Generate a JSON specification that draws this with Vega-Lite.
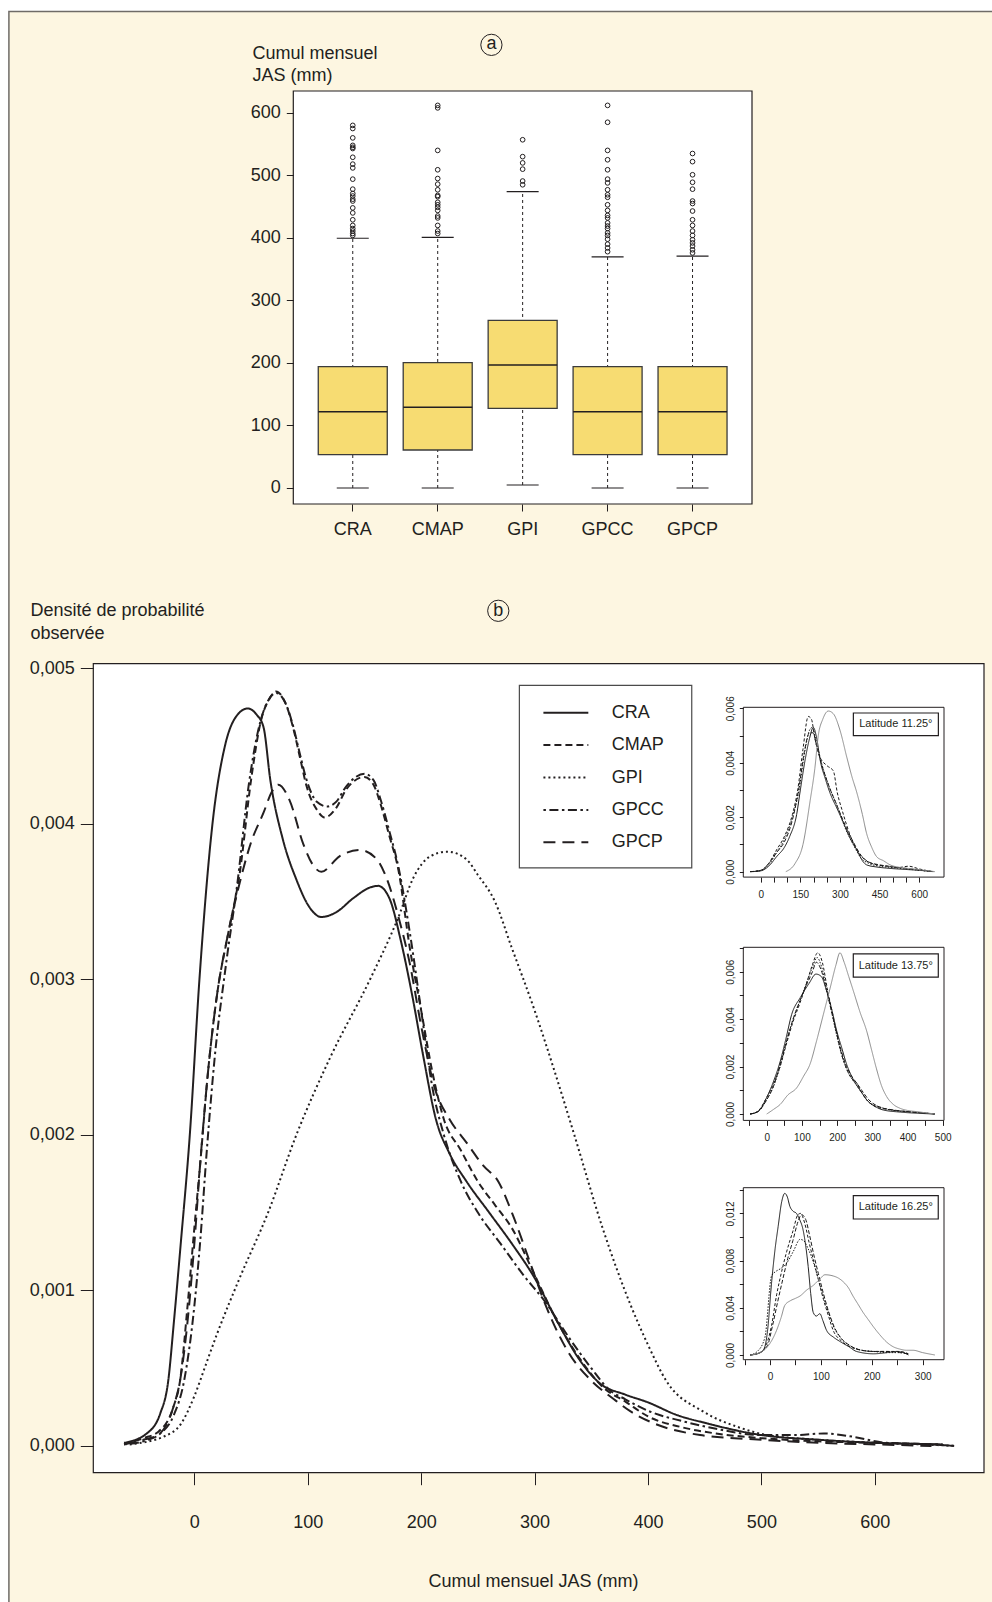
{
"$schema": "https://vega.github.io/schema/vega-lite/v6.json",
"width": 992, "height": 1602, "autosize": "none", "padding": 0, "background": "#ffffff",
"config": {"view": {"stroke": null},
  "axis": {"labelFont": "Liberation Sans", "titleFont": "Liberation Sans", "labelColor": "#231f20", "titleColor": "#231f20", "tickColor": "#231f20", "tickWidth": 1, "domain": false, "grid": false, "titleFontWeight": "normal", "labelOverlap": false, "labelFlush": false, "labelBound": false},
  "text": {"font": "Liberation Sans"}},
"resolve": {"scale": {"x": "independent", "y": "independent", "stroke": "independent", "strokeDash": "independent"}, "axis": {"x": "independent", "y": "independent"}},
"datasets": {
 "box": [
  {"src":"CRA","lo":0,"q1":53.3,"med":122,"q3":194,"hi":399.5},
  {"src":"CMAP","lo":0,"q1":60.8,"med":129,"q3":200.5,"hi":401},
  {"src":"GPI","lo":4.8,"q1":127.5,"med":196.8,"q3":268,"hi":474},
  {"src":"GPCC","lo":0,"q1":53.3,"med":122,"q3":194,"hi":369.6},
  {"src":"GPCP","lo":0,"q1":53.3,"med":122,"q3":194,"hi":371}],
 "out": [
  {"src":"CRA","v":580},{"src":"CRA","v":575},{"src":"CRA","v":560},{"src":"CRA","v":548},{"src":"CRA","v":545},{"src":"CRA","v":543},{"src":"CRA","v":529},{"src":"CRA","v":518},{"src":"CRA","v":512},{"src":"CRA","v":494},{"src":"CRA","v":478},{"src":"CRA","v":471},{"src":"CRA","v":467},{"src":"CRA","v":462},{"src":"CRA","v":459},{"src":"CRA","v":448},{"src":"CRA","v":440},{"src":"CRA","v":429},{"src":"CRA","v":420},{"src":"CRA","v":415},{"src":"CRA","v":411},{"src":"CRA","v":407},{"src":"CRA","v":404},
  {"src":"CMAP","v":612},{"src":"CMAP","v":608},{"src":"CMAP","v":540},{"src":"CMAP","v":509},{"src":"CMAP","v":495},{"src":"CMAP","v":486},{"src":"CMAP","v":477},{"src":"CMAP","v":468},{"src":"CMAP","v":466},{"src":"CMAP","v":457},{"src":"CMAP","v":453},{"src":"CMAP","v":449},{"src":"CMAP","v":444},{"src":"CMAP","v":435},{"src":"CMAP","v":432},{"src":"CMAP","v":420},{"src":"CMAP","v":411},{"src":"CMAP","v":407},
  {"src":"GPI","v":557},{"src":"GPI","v":530},{"src":"GPI","v":520},{"src":"GPI","v":510},{"src":"GPI","v":491},{"src":"GPI","v":485},
  {"src":"GPCC","v":612},{"src":"GPCC","v":585},{"src":"GPCC","v":540},{"src":"GPCC","v":525},{"src":"GPCC","v":509},{"src":"GPCC","v":494},{"src":"GPCC","v":488},{"src":"GPCC","v":477},{"src":"GPCC","v":469},{"src":"GPCC","v":465},{"src":"GPCC","v":453},{"src":"GPCC","v":444},{"src":"GPCC","v":436},{"src":"GPCC","v":432},{"src":"GPCC","v":424},{"src":"GPCC","v":419},{"src":"GPCC","v":415},{"src":"GPCC","v":408},{"src":"GPCC","v":404},{"src":"GPCC","v":398},{"src":"GPCC","v":390},{"src":"GPCC","v":384},{"src":"GPCC","v":378},
  {"src":"GPCP","v":535},{"src":"GPCP","v":522},{"src":"GPCP","v":501},{"src":"GPCP","v":489},{"src":"GPCP","v":478},{"src":"GPCP","v":459},{"src":"GPCP","v":455},{"src":"GPCP","v":443},{"src":"GPCP","v":429},{"src":"GPCP","v":420},{"src":"GPCP","v":411},{"src":"GPCP","v":404},{"src":"GPCP","v":397},{"src":"GPCP","v":392},{"src":"GPCP","v":387},{"src":"GPCP","v":381},{"src":"GPCP","v":376}],
 "series": [{"s":"CRA"},{"s":"CMAP"},{"s":"GPI"},{"s":"GPCC"},{"s":"GPCP"}],
 "dens": [
  {"s":"CRA","x":-62,"y":0.00002},{"s":"CRA","x":-42,"y":0.00008},{"s":"CRA","x":-30,"y":0.00021},{"s":"CRA","x":-23,"y":0.00042},{"s":"CRA","x":-18,"y":0.0008},{"s":"CRA","x":-12,"y":0.0013},{"s":"CRA","x":-4,"y":0.002},{"s":"CRA","x":4.5,"y":0.003},{"s":"CRA","x":16,"y":0.004},{"s":"CRA","x":27,"y":0.0045},{"s":"CRA","x":37,"y":0.00469},{"s":"CRA","x":47,"y":0.00474},{"s":"CRA","x":55,"y":0.0047},{"s":"CRA","x":61,"y":0.00462},{"s":"CRA","x":67,"y":0.00428},{"s":"CRA","x":78,"y":0.0039},{"s":"CRA","x":90,"y":0.00364},{"s":"CRA","x":100,"y":0.00348},{"s":"CRA","x":112,"y":0.0034},{"s":"CRA","x":125,"y":0.00343},{"s":"CRA","x":140,"y":0.00352},{"s":"CRA","x":155,"y":0.00359},{"s":"CRA","x":162,"y":0.0036},{"s":"CRA","x":172,"y":0.00352},{"s":"CRA","x":182,"y":0.00325},{"s":"CRA","x":192,"y":0.0029},{"s":"CRA","x":202,"y":0.0025},{"s":"CRA","x":213,"y":0.0021},{"s":"CRA","x":225,"y":0.00188},{"s":"CRA","x":240,"y":0.0017},{"s":"CRA","x":260,"y":0.0015},{"s":"CRA","x":280,"y":0.0013},{"s":"CRA","x":300,"y":0.00108},{"s":"CRA","x":320,"y":0.0008},{"s":"CRA","x":340,"y":0.00055},{"s":"CRA","x":358,"y":0.0004},{"s":"CRA","x":380,"y":0.00033},{"s":"CRA","x":400,"y":0.00028},{"s":"CRA","x":425,"y":0.0002},{"s":"CRA","x":452,"y":0.000145},{"s":"CRA","x":500,"y":0.00007},{"s":"CRA","x":550,"y":0.00004},{"s":"CRA","x":600,"y":0.00002},{"s":"CRA","x":650,"y":0.00001},{"s":"CRA","x":670,"y":0},
  {"s":"CMAP","x":-62,"y":0.00001},{"s":"CMAP","x":-45,"y":0.00005},{"s":"CMAP","x":-32,"y":0.00009},{"s":"CMAP","x":-18.5,"y":0.00025},{"s":"CMAP","x":-12.6,"y":0.00042},{"s":"CMAP","x":-6,"y":0.0009},{"s":"CMAP","x":0,"y":0.0014},{"s":"CMAP","x":5,"y":0.0018},{"s":"CMAP","x":12,"y":0.0024},{"s":"CMAP","x":20,"y":0.0029},{"s":"CMAP","x":30,"y":0.0033},{"s":"CMAP","x":40,"y":0.00368},{"s":"CMAP","x":50,"y":0.00428},{"s":"CMAP","x":59,"y":0.00467},{"s":"CMAP","x":66,"y":0.0048},{"s":"CMAP","x":72,"y":0.00485},{"s":"CMAP","x":80,"y":0.00478},{"s":"CMAP","x":87,"y":0.00462},{"s":"CMAP","x":93,"y":0.00443},{"s":"CMAP","x":99,"y":0.00424},{"s":"CMAP","x":108,"y":0.00409},{"s":"CMAP","x":115,"y":0.00404},{"s":"CMAP","x":125,"y":0.0041},{"s":"CMAP","x":134,"y":0.00422},{"s":"CMAP","x":150,"y":0.0043},{"s":"CMAP","x":158,"y":0.00425},{"s":"CMAP","x":164,"y":0.00413},{"s":"CMAP","x":172,"y":0.00392},{"s":"CMAP","x":180,"y":0.0037},{"s":"CMAP","x":190,"y":0.0032},{"s":"CMAP","x":200,"y":0.0028},{"s":"CMAP","x":210,"y":0.0024},{"s":"CMAP","x":220,"y":0.0021},{"s":"CMAP","x":235,"y":0.0019},{"s":"CMAP","x":250,"y":0.0017},{"s":"CMAP","x":265,"y":0.00155},{"s":"CMAP","x":280,"y":0.0014},{"s":"CMAP","x":300,"y":0.0011},{"s":"CMAP","x":320,"y":0.0008},{"s":"CMAP","x":340,"y":0.00056},{"s":"CMAP","x":360,"y":0.00038},{"s":"CMAP","x":381,"y":0.00028},{"s":"CMAP","x":400,"y":0.00019},{"s":"CMAP","x":430,"y":0.00012},{"s":"CMAP","x":460,"y":0.00008},{"s":"CMAP","x":500,"y":0.00005},{"s":"CMAP","x":550,"y":0.00003},{"s":"CMAP","x":600,"y":0.00002},{"s":"CMAP","x":660,"y":0.00001},
  {"s":"GPI","x":-57,"y":0.00001},{"s":"GPI","x":-40,"y":0.00003},{"s":"GPI","x":-27,"y":0.00006},{"s":"GPI","x":-12,"y":0.00014},{"s":"GPI","x":0,"y":0.00032},{"s":"GPI","x":10,"y":0.00052},{"s":"GPI","x":20,"y":0.00072},{"s":"GPI","x":40,"y":0.00108},{"s":"GPI","x":65,"y":0.0015},{"s":"GPI","x":90,"y":0.002},{"s":"GPI","x":120,"y":0.0025},{"s":"GPI","x":155,"y":0.003},{"s":"GPI","x":180,"y":0.0034},{"s":"GPI","x":193,"y":0.00365},{"s":"GPI","x":208,"y":0.00379},{"s":"GPI","x":223,"y":0.00382},{"s":"GPI","x":240,"y":0.00377},{"s":"GPI","x":250,"y":0.00367},{"s":"GPI","x":265,"y":0.0035},{"s":"GPI","x":280,"y":0.0032},{"s":"GPI","x":300,"y":0.0028},{"s":"GPI","x":318,"y":0.0024},{"s":"GPI","x":335,"y":0.002},{"s":"GPI","x":360,"y":0.0014},{"s":"GPI","x":385,"y":0.0009},{"s":"GPI","x":400,"y":0.00065},{"s":"GPI","x":416,"y":0.00042},{"s":"GPI","x":449,"y":0.00022},{"s":"GPI","x":480,"y":0.00012},{"s":"GPI","x":505,"y":0.00007},{"s":"GPI","x":550,"y":0.00004},{"s":"GPI","x":600,"y":0.00002},{"s":"GPI","x":640,"y":0.00001},{"s":"GPI","x":672,"y":0},
  {"s":"GPCC","x":-62,"y":0.00001},{"s":"GPCC","x":-45,"y":0.00003},{"s":"GPCC","x":-30,"y":0.00008},{"s":"GPCC","x":-18,"y":0.0002},{"s":"GPCC","x":-9,"y":0.00042},{"s":"GPCC","x":0,"y":0.0009},{"s":"GPCC","x":5,"y":0.0013},{"s":"GPCC","x":11,"y":0.0019},{"s":"GPCC","x":18,"y":0.0025},{"s":"GPCC","x":28,"y":0.0031},{"s":"GPCC","x":38,"y":0.00362},{"s":"GPCC","x":48,"y":0.00425},{"s":"GPCC","x":58,"y":0.00465},{"s":"GPCC","x":65,"y":0.00479},{"s":"GPCC","x":72,"y":0.00484},{"s":"GPCC","x":80,"y":0.00478},{"s":"GPCC","x":87,"y":0.00463},{"s":"GPCC","x":93,"y":0.00445},{"s":"GPCC","x":99,"y":0.00428},{"s":"GPCC","x":108,"y":0.00414},{"s":"GPCC","x":117,"y":0.00411},{"s":"GPCC","x":125,"y":0.00414},{"s":"GPCC","x":134,"y":0.00424},{"s":"GPCC","x":150,"y":0.00432},{"s":"GPCC","x":158,"y":0.00428},{"s":"GPCC","x":164,"y":0.00416},{"s":"GPCC","x":172,"y":0.00395},{"s":"GPCC","x":180,"y":0.00372},{"s":"GPCC","x":190,"y":0.0033},{"s":"GPCC","x":200,"y":0.0028},{"s":"GPCC","x":210,"y":0.0023},{"s":"GPCC","x":220,"y":0.002},{"s":"GPCC","x":235,"y":0.0017},{"s":"GPCC","x":250,"y":0.0015},{"s":"GPCC","x":270,"y":0.0013},{"s":"GPCC","x":290,"y":0.0011},{"s":"GPCC","x":310,"y":0.00092},{"s":"GPCC","x":330,"y":0.0007},{"s":"GPCC","x":350,"y":0.0005},{"s":"GPCC","x":366,"y":0.00036},{"s":"GPCC","x":380,"y":0.0003},{"s":"GPCC","x":402,"y":0.00022},{"s":"GPCC","x":430,"y":0.00016},{"s":"GPCC","x":460,"y":0.00011},{"s":"GPCC","x":500,"y":0.00007},{"s":"GPCC","x":530,"y":0.00007},{"s":"GPCC","x":555,"y":0.00008},{"s":"GPCC","x":580,"y":0.00006},{"s":"GPCC","x":610,"y":0.00002},{"s":"GPCC","x":660,"y":0.00001},
  {"s":"GPCP","x":-62,"y":0.00001},{"s":"GPCP","x":-45,"y":0.00004},{"s":"GPCP","x":-32,"y":0.00007},{"s":"GPCP","x":-18.5,"y":0.00025},{"s":"GPCP","x":-12.6,"y":0.00042},{"s":"GPCP","x":-6,"y":0.0008},{"s":"GPCP","x":0,"y":0.0013},{"s":"GPCP","x":5,"y":0.0018},{"s":"GPCP","x":12,"y":0.0024},{"s":"GPCP","x":20,"y":0.0029},{"s":"GPCP","x":30,"y":0.0033},{"s":"GPCP","x":40,"y":0.00362},{"s":"GPCP","x":50,"y":0.00388},{"s":"GPCP","x":61,"y":0.00407},{"s":"GPCP","x":68,"y":0.0042},{"s":"GPCP","x":74,"y":0.00425},{"s":"GPCP","x":84,"y":0.00415},{"s":"GPCP","x":96,"y":0.00387},{"s":"GPCP","x":106,"y":0.00372},{"s":"GPCP","x":112,"y":0.00369},{"s":"GPCP","x":128,"y":0.00379},{"s":"GPCP","x":146,"y":0.00383},{"s":"GPCP","x":161,"y":0.00377},{"s":"GPCP","x":170,"y":0.00364},{"s":"GPCP","x":180,"y":0.0034},{"s":"GPCP","x":190,"y":0.0031},{"s":"GPCP","x":200,"y":0.0027},{"s":"GPCP","x":212,"y":0.0023},{"s":"GPCP","x":225,"y":0.0021},{"s":"GPCP","x":240,"y":0.00195},{"s":"GPCP","x":255,"y":0.0018},{"s":"GPCP","x":268,"y":0.0017},{"s":"GPCP","x":280,"y":0.0015},{"s":"GPCP","x":295,"y":0.0012},{"s":"GPCP","x":310,"y":0.0009},{"s":"GPCP","x":330,"y":0.0006},{"s":"GPCP","x":350,"y":0.00042},{"s":"GPCP","x":370,"y":0.0003},{"s":"GPCP","x":385,"y":0.00022},{"s":"GPCP","x":402,"y":0.000155},{"s":"GPCP","x":446,"y":0.00007},{"s":"GPCP","x":500,"y":0.00004},{"s":"GPCP","x":550,"y":0.00002},{"s":"GPCP","x":600,"y":0.00001},{"s":"GPCP","x":650,"y":0}],
 "in1": [
  {"s":"CRA","x":-35,"y":0},{"s":"CRA","x":0,"y":0.00003},{"s":"CRA","x":30,"y":0.0002},{"s":"CRA","x":60,"y":0.00055},{"s":"CRA","x":90,"y":0.0009},{"s":"CRA","x":110,"y":0.0013},{"s":"CRA","x":136,"y":0.0021},{"s":"CRA","x":150,"y":0.003},{"s":"CRA","x":168,"y":0.0041},{"s":"CRA","x":185,"y":0.0049},{"s":"CRA","x":199,"y":0.0053},{"s":"CRA","x":212,"y":0.0049},{"s":"CRA","x":225,"y":0.0041},{"s":"CRA","x":245,"y":0.0034},{"s":"CRA","x":262,"y":0.0029},{"s":"CRA","x":290,"y":0.0023},{"s":"CRA","x":313,"y":0.0018},{"s":"CRA","x":340,"y":0.0012},{"s":"CRA","x":364,"y":0.0008},{"s":"CRA","x":385,"y":0.0004},{"s":"CRA","x":401,"y":0.00025},{"s":"CRA","x":440,"y":0.00017},{"s":"CRA","x":477,"y":0.00013},{"s":"CRA","x":550,"y":0.00008},{"s":"CRA","x":600,"y":0.00005},{"s":"CRA","x":654,"y":0},
  {"s":"CMAP","x":-40,"y":0},{"s":"CMAP","x":0,"y":0.00005},{"s":"CMAP","x":30,"y":0.0003},{"s":"CMAP","x":60,"y":0.0008},{"s":"CMAP","x":90,"y":0.0013},{"s":"CMAP","x":120,"y":0.0021},{"s":"CMAP","x":140,"y":0.003},{"s":"CMAP","x":160,"y":0.0045},{"s":"CMAP","x":180,"y":0.0057},{"s":"CMAP","x":192,"y":0.0056},{"s":"CMAP","x":205,"y":0.0049},{"s":"CMAP","x":225,"y":0.0042},{"s":"CMAP","x":250,"y":0.0039},{"s":"CMAP","x":275,"y":0.0037},{"s":"CMAP","x":290,"y":0.0029},{"s":"CMAP","x":310,"y":0.0022},{"s":"CMAP","x":340,"y":0.0013},{"s":"CMAP","x":370,"y":0.0007},{"s":"CMAP","x":400,"y":0.0004},{"s":"CMAP","x":440,"y":0.00025},{"s":"CMAP","x":480,"y":0.0002},{"s":"CMAP","x":520,"y":0.00015},{"s":"CMAP","x":560,"y":0.0002},{"s":"CMAP","x":600,"y":0.0001},{"s":"CMAP","x":650,"y":0},
  {"s":"GPCC","x":-40,"y":0},{"s":"GPCC","x":0,"y":0.00004},{"s":"GPCC","x":30,"y":0.00025},{"s":"GPCC","x":60,"y":0.0007},{"s":"GPCC","x":90,"y":0.0012},{"s":"GPCC","x":120,"y":0.002},{"s":"GPCC","x":145,"y":0.003},{"s":"GPCC","x":165,"y":0.0043},{"s":"GPCC","x":185,"y":0.0052},{"s":"GPCC","x":195,"y":0.0053},{"s":"GPCC","x":210,"y":0.0048},{"s":"GPCC","x":230,"y":0.004},{"s":"GPCC","x":260,"y":0.0031},{"s":"GPCC","x":290,"y":0.0024},{"s":"GPCC","x":320,"y":0.0016},{"s":"GPCC","x":350,"y":0.001},{"s":"GPCC","x":380,"y":0.0005},{"s":"GPCC","x":410,"y":0.0003},{"s":"GPCC","x":450,"y":0.0002},{"s":"GPCC","x":500,"y":0.00015},{"s":"GPCC","x":550,"y":0.0001},{"s":"GPCC","x":600,"y":0.00005},{"s":"GPCC","x":650,"y":0},
  {"s":"GPCP","x":-40,"y":0},{"s":"GPCP","x":0,"y":0.00004},{"s":"GPCP","x":30,"y":0.0003},{"s":"GPCP","x":60,"y":0.0007},{"s":"GPCP","x":90,"y":0.0011},{"s":"GPCP","x":120,"y":0.0019},{"s":"GPCP","x":145,"y":0.0031},{"s":"GPCP","x":165,"y":0.0044},{"s":"GPCP","x":185,"y":0.0051},{"s":"GPCP","x":198,"y":0.0051},{"s":"GPCP","x":212,"y":0.0046},{"s":"GPCP","x":235,"y":0.0038},{"s":"GPCP","x":260,"y":0.0031},{"s":"GPCP","x":290,"y":0.0024},{"s":"GPCP","x":320,"y":0.0017},{"s":"GPCP","x":350,"y":0.0011},{"s":"GPCP","x":380,"y":0.0006},{"s":"GPCP","x":410,"y":0.00035},{"s":"GPCP","x":450,"y":0.00025},{"s":"GPCP","x":500,"y":0.00018},{"s":"GPCP","x":550,"y":0.00012},{"s":"GPCP","x":600,"y":0.00006},{"s":"GPCP","x":650,"y":0},
  {"s":"GPI","x":95,"y":0},{"s":"GPI","x":130,"y":0.0003},{"s":"GPI","x":160,"y":0.001},{"s":"GPI","x":187,"y":0.0026},{"s":"GPI","x":205,"y":0.0038},{"s":"GPI","x":218,"y":0.005},{"s":"GPI","x":235,"y":0.0056},{"s":"GPI","x":256,"y":0.0059},{"s":"GPI","x":275,"y":0.0058},{"s":"GPI","x":300,"y":0.0052},{"s":"GPI","x":326,"y":0.0042},{"s":"GPI","x":345,"y":0.0035},{"s":"GPI","x":364,"y":0.0029},{"s":"GPI","x":385,"y":0.0021},{"s":"GPI","x":401,"y":0.0014},{"s":"GPI","x":420,"y":0.0009},{"s":"GPI","x":439,"y":0.00055},{"s":"GPI","x":465,"y":0.0004},{"s":"GPI","x":490,"y":0.00025},{"s":"GPI","x":530,"y":0.00015},{"s":"GPI","x":580,"y":0.0001},{"s":"GPI","x":620,"y":0.00005},{"s":"GPI","x":660,"y":0}],
 "in2": [
  {"s":"CRA","x":-47,"y":0},{"s":"CRA","x":-25,"y":0.0001},{"s":"CRA","x":0,"y":0.0007},{"s":"CRA","x":20,"y":0.0014},{"s":"CRA","x":38,"y":0.0022},{"s":"CRA","x":55,"y":0.0032},{"s":"CRA","x":71,"y":0.0042},{"s":"CRA","x":95,"y":0.0049},{"s":"CRA","x":120,"y":0.0055},{"s":"CRA","x":140,"y":0.0059},{"s":"CRA","x":155,"y":0.0058},{"s":"CRA","x":170,"y":0.0052},{"s":"CRA","x":185,"y":0.0044},{"s":"CRA","x":199,"y":0.0035},{"s":"CRA","x":213,"y":0.0028},{"s":"CRA","x":227,"y":0.0021},{"s":"CRA","x":241,"y":0.0016},{"s":"CRA","x":256,"y":0.0012},{"s":"CRA","x":270,"y":0.0009},{"s":"CRA","x":284,"y":0.0006},{"s":"CRA","x":310,"y":0.0003},{"s":"CRA","x":331,"y":0.00017},{"s":"CRA","x":380,"y":0.00008},{"s":"CRA","x":430,"y":0.00003},{"s":"CRA","x":478,"y":0},
  {"s":"CMAP","x":-47,"y":0},{"s":"CMAP","x":-25,"y":0.00012},{"s":"CMAP","x":0,"y":0.0007},{"s":"CMAP","x":20,"y":0.0013},{"s":"CMAP","x":38,"y":0.002},{"s":"CMAP","x":55,"y":0.0029},{"s":"CMAP","x":75,"y":0.0039},{"s":"CMAP","x":95,"y":0.0047},{"s":"CMAP","x":115,"y":0.0056},{"s":"CMAP","x":130,"y":0.0063},{"s":"CMAP","x":145,"y":0.0068},{"s":"CMAP","x":158,"y":0.0064},{"s":"CMAP","x":172,"y":0.0053},{"s":"CMAP","x":186,"y":0.0043},{"s":"CMAP","x":199,"y":0.0034},{"s":"CMAP","x":213,"y":0.0025},{"s":"CMAP","x":227,"y":0.0019},{"s":"CMAP","x":241,"y":0.0015},{"s":"CMAP","x":256,"y":0.0013},{"s":"CMAP","x":270,"y":0.0009},{"s":"CMAP","x":284,"y":0.0006},{"s":"CMAP","x":310,"y":0.0003},{"s":"CMAP","x":340,"y":0.0002},{"s":"CMAP","x":400,"y":0.0001},{"s":"CMAP","x":478,"y":0},
  {"s":"GPCC","x":-47,"y":0},{"s":"GPCC","x":-25,"y":0.0001},{"s":"GPCC","x":0,"y":0.0006},{"s":"GPCC","x":20,"y":0.0012},{"s":"GPCC","x":38,"y":0.002},{"s":"GPCC","x":55,"y":0.003},{"s":"GPCC","x":75,"y":0.004},{"s":"GPCC","x":95,"y":0.0048},{"s":"GPCC","x":115,"y":0.0056},{"s":"GPCC","x":130,"y":0.0062},{"s":"GPCC","x":143,"y":0.0066},{"s":"GPCC","x":156,"y":0.0062},{"s":"GPCC","x":170,"y":0.0053},{"s":"GPCC","x":186,"y":0.0042},{"s":"GPCC","x":199,"y":0.0033},{"s":"GPCC","x":213,"y":0.0025},{"s":"GPCC","x":227,"y":0.0019},{"s":"GPCC","x":241,"y":0.0015},{"s":"GPCC","x":256,"y":0.0012},{"s":"GPCC","x":270,"y":0.0009},{"s":"GPCC","x":290,"y":0.0005},{"s":"GPCC","x":320,"y":0.0003},{"s":"GPCC","x":360,"y":0.00015},{"s":"GPCC","x":420,"y":0.00008},{"s":"GPCC","x":478,"y":0},
  {"s":"GPCP","x":-47,"y":0},{"s":"GPCP","x":-25,"y":0.0001},{"s":"GPCP","x":0,"y":0.0006},{"s":"GPCP","x":20,"y":0.0012},{"s":"GPCP","x":38,"y":0.0021},{"s":"GPCP","x":55,"y":0.003},{"s":"GPCP","x":75,"y":0.004},{"s":"GPCP","x":95,"y":0.0048},{"s":"GPCP","x":115,"y":0.0055},{"s":"GPCP","x":130,"y":0.006},{"s":"GPCP","x":141,"y":0.0064},{"s":"GPCP","x":154,"y":0.0061},{"s":"GPCP","x":170,"y":0.0052},{"s":"GPCP","x":186,"y":0.0042},{"s":"GPCP","x":199,"y":0.0034},{"s":"GPCP","x":213,"y":0.0026},{"s":"GPCP","x":227,"y":0.002},{"s":"GPCP","x":241,"y":0.0016},{"s":"GPCP","x":256,"y":0.0013},{"s":"GPCP","x":270,"y":0.001},{"s":"GPCP","x":290,"y":0.0006},{"s":"GPCP","x":320,"y":0.0003},{"s":"GPCP","x":360,"y":0.00017},{"s":"GPCP","x":420,"y":0.00008},{"s":"GPCP","x":478,"y":0},
  {"s":"GPI","x":0,"y":0},{"s":"GPI","x":20,"y":0.0002},{"s":"GPI","x":38,"y":0.0004},{"s":"GPI","x":60,"y":0.0008},{"s":"GPI","x":85,"y":0.0011},{"s":"GPI","x":105,"y":0.0016},{"s":"GPI","x":123,"y":0.0021},{"s":"GPI","x":142,"y":0.0031},{"s":"GPI","x":161,"y":0.0042},{"s":"GPI","x":180,"y":0.0053},{"s":"GPI","x":197,"y":0.0063},{"s":"GPI","x":208,"y":0.0068},{"s":"GPI","x":220,"y":0.0064},{"s":"GPI","x":233,"y":0.0058},{"s":"GPI","x":246,"y":0.0052},{"s":"GPI","x":265,"y":0.0043},{"s":"GPI","x":284,"y":0.0035},{"s":"GPI","x":298,"y":0.0027},{"s":"GPI","x":312,"y":0.0019},{"s":"GPI","x":326,"y":0.0012},{"s":"GPI","x":341,"y":0.00073},{"s":"GPI","x":360,"y":0.0004},{"s":"GPI","x":379,"y":0.00024},{"s":"GPI","x":400,"y":0.00015},{"s":"GPI","x":426,"y":0.0001},{"s":"GPI","x":478,"y":0}],
 "in3": [
  {"s":"CRA","x":-39,"y":0},{"s":"CRA","x":-25,"y":0.0001},{"s":"CRA","x":-13,"y":0.0004},{"s":"CRA","x":-5,"y":0.002},{"s":"CRA","x":3,"y":0.0061},{"s":"CRA","x":10,"y":0.009},{"s":"CRA","x":16,"y":0.0109},{"s":"CRA","x":23,"y":0.013},{"s":"CRA","x":29,"y":0.0137},{"s":"CRA","x":34,"y":0.0134},{"s":"CRA","x":39,"y":0.0126},{"s":"CRA","x":45,"y":0.0122},{"s":"CRA","x":52,"y":0.012},{"s":"CRA","x":58,"y":0.0115},{"s":"CRA","x":65,"y":0.0106},{"s":"CRA","x":70,"y":0.0093},{"s":"CRA","x":75,"y":0.0075},{"s":"CRA","x":80,"y":0.0052},{"s":"CRA","x":85,"y":0.0036},{"s":"CRA","x":91,"y":0.0033},{"s":"CRA","x":98,"y":0.0035},{"s":"CRA","x":104,"y":0.0029},{"s":"CRA","x":111,"y":0.0021},{"s":"CRA","x":125,"y":0.0015},{"s":"CRA","x":138,"y":0.00113},{"s":"CRA","x":155,"y":0.0007},{"s":"CRA","x":170,"y":0.0003},{"s":"CRA","x":203,"y":0.0001},{"s":"CRA","x":230,"y":0.0002},{"s":"CRA","x":249,"y":0.0003},{"s":"CRA","x":262,"y":0.0002},{"s":"CRA","x":272,"y":0},
  {"s":"CMAP","x":-39,"y":0},{"s":"CMAP","x":-20,"y":0.0002},{"s":"CMAP","x":-7,"y":0.0009},{"s":"CMAP","x":3,"y":0.0025},{"s":"CMAP","x":13,"y":0.0051},{"s":"CMAP","x":23,"y":0.0071},{"s":"CMAP","x":33,"y":0.0088},{"s":"CMAP","x":45,"y":0.0105},{"s":"CMAP","x":55,"y":0.0119},{"s":"CMAP","x":60,"y":0.012},{"s":"CMAP","x":68,"y":0.0112},{"s":"CMAP","x":77,"y":0.0095},{"s":"CMAP","x":85,"y":0.0081},{"s":"CMAP","x":95,"y":0.0064},{"s":"CMAP","x":105,"y":0.0047},{"s":"CMAP","x":115,"y":0.0033},{"s":"CMAP","x":124,"y":0.0021},{"s":"CMAP","x":140,"y":0.0012},{"s":"CMAP","x":157,"y":0.0007},{"s":"CMAP","x":180,"y":0.0004},{"s":"CMAP","x":203,"y":0.0003},{"s":"CMAP","x":230,"y":0.0003},{"s":"CMAP","x":255,"y":0.0003},{"s":"CMAP","x":272,"y":0.0001},
  {"s":"GPCC","x":-39,"y":0},{"s":"GPCC","x":-25,"y":0.0003},{"s":"GPCC","x":-10,"y":0.0015},{"s":"GPCC","x":3,"y":0.0067},{"s":"GPCC","x":12,"y":0.0071},{"s":"GPCC","x":20,"y":0.0073},{"s":"GPCC","x":33,"y":0.0078},{"s":"GPCC","x":46,"y":0.0088},{"s":"GPCC","x":59,"y":0.0098},{"s":"GPCC","x":66,"y":0.0097},{"s":"GPCC","x":75,"y":0.009},{"s":"GPCC","x":85,"y":0.0079},{"s":"GPCC","x":95,"y":0.0064},{"s":"GPCC","x":105,"y":0.0049},{"s":"GPCC","x":115,"y":0.0036},{"s":"GPCC","x":124,"y":0.0025},{"s":"GPCC","x":140,"y":0.0014},{"s":"GPCC","x":157,"y":0.0008},{"s":"GPCC","x":180,"y":0.0004},{"s":"GPCC","x":203,"y":0.0003},{"s":"GPCC","x":230,"y":0.0002},{"s":"GPCC","x":255,"y":0.0002},{"s":"GPCC","x":272,"y":0.0001},
  {"s":"GPCP","x":-39,"y":0},{"s":"GPCP","x":-20,"y":0.0002},{"s":"GPCP","x":-5,"y":0.0008},{"s":"GPCP","x":5,"y":0.0025},{"s":"GPCP","x":15,"y":0.0045},{"s":"GPCP","x":25,"y":0.0064},{"s":"GPCP","x":35,"y":0.0082},{"s":"GPCP","x":45,"y":0.0097},{"s":"GPCP","x":55,"y":0.0113},{"s":"GPCP","x":62,"y":0.0119},{"s":"GPCP","x":70,"y":0.0115},{"s":"GPCP","x":78,"y":0.0101},{"s":"GPCP","x":86,"y":0.0085},{"s":"GPCP","x":95,"y":0.0069},{"s":"GPCP","x":105,"y":0.0052},{"s":"GPCP","x":115,"y":0.0037},{"s":"GPCP","x":126,"y":0.0024},{"s":"GPCP","x":140,"y":0.0014},{"s":"GPCP","x":157,"y":0.0008},{"s":"GPCP","x":180,"y":0.0004},{"s":"GPCP","x":203,"y":0.0003},{"s":"GPCP","x":230,"y":0.0003},{"s":"GPCP","x":255,"y":0.0002},{"s":"GPCP","x":272,"y":0.0001},
  {"s":"GPI","x":-39,"y":0},{"s":"GPI","x":-20,"y":0.0002},{"s":"GPI","x":-7,"y":0.0006},{"s":"GPI","x":3,"y":0.0012},{"s":"GPI","x":13,"y":0.0021},{"s":"GPI","x":22,"y":0.0032},{"s":"GPI","x":29,"y":0.0042},{"s":"GPI","x":40,"y":0.0046},{"s":"GPI","x":50,"y":0.0048},{"s":"GPI","x":59,"y":0.005},{"s":"GPI","x":72,"y":0.0055},{"s":"GPI","x":85,"y":0.0059},{"s":"GPI","x":97,"y":0.0064},{"s":"GPI","x":108,"y":0.0068},{"s":"GPI","x":124,"y":0.0067},{"s":"GPI","x":135,"y":0.0065},{"s":"GPI","x":144,"y":0.0062},{"s":"GPI","x":154,"y":0.0057},{"s":"GPI","x":163,"y":0.005},{"s":"GPI","x":173,"y":0.0043},{"s":"GPI","x":183,"y":0.0036},{"s":"GPI","x":193,"y":0.003},{"s":"GPI","x":203,"y":0.0024},{"s":"GPI","x":216,"y":0.0017},{"s":"GPI","x":229,"y":0.0011},{"s":"GPI","x":242,"y":0.0007},{"s":"GPI","x":255,"y":0.0005},{"s":"GPI","x":268,"y":0.0004},{"s":"GPI","x":281,"y":0.0004},{"s":"GPI","x":300,"y":0.0002},{"s":"GPI","x":324,"y":0}]
},
"layer": [
 {"data": {"values": [{}]},
  "layer": [
   {"mark": {"type": "rect", "fill": "#FDF6E1", "stroke": "#6f6b67", "strokeWidth": 1.5},
    "encoding": {"x": {"datum": -0.62, "type": "quantitative", "scale": {"domain": [0,1], "range": [293.3,752], "nice": false, "zero": false}, "axis": null}, "x2": {"datum": 2.5},
                 "y": {"datum": 762, "type": "quantitative", "scale": {"domain": [-25.6,635], "range": [504,91], "nice": false, "zero": false}, "axis": null}, "y2": {"datum": -3000}}},
   {"mark": {"type": "rect", "fill": "#ffffff", "stroke": "#231f20", "strokeWidth": 1.2},
    "encoding": {"x": {"datum": 0, "type": "quantitative", "scale": {"domain": [0,1], "range": [293.3,752], "nice": false, "zero": false}, "axis": null}, "x2": {"datum": 1},
                 "y": {"datum": -25.6, "type": "quantitative", "scale": {"domain": [-25.6,635], "range": [504,91], "nice": false, "zero": false}, "axis": null}, "y2": {"datum": 635}}},
   {"mark": {"type": "point", "shape": "circle", "size": 452, "filled": false, "color": "#231f20", "strokeWidth": 1, "opacity": 1},
    "encoding": {"x": {"datum": 0.4319, "type": "quantitative", "scale": {"domain": [0,1], "range": [293.3,752], "nice": false, "zero": false}, "axis": null},
                 "y": {"datum": 708.8, "type": "quantitative", "scale": {"domain": [-25.6,635], "range": [504,91], "nice": false, "zero": false}, "axis": null}}},
   {"mark": {"type": "text", "fontSize": 18, "align": "center", "baseline": "middle", "color": "#231f20", "dy": -1},
    "encoding": {"x": {"datum": 0.4319, "type": "quantitative", "scale": {"domain": [0,1], "range": [293.3,752], "nice": false, "zero": false}, "axis": null},
                 "y": {"datum": 708.8, "type": "quantitative", "scale": {"domain": [-25.6,635], "range": [504,91], "nice": false, "zero": false}, "axis": null},
                 "text": {"value": "a"}}}
  ]},
 {"encoding": {"x": {"field": "src", "type": "nominal", "sort": null, "scale": {"domain": ["CRA","CMAP","GPI","GPCC","GPCP"], "range": [293.3,752], "paddingInner": 0, "paddingOuter": 0.2},
                     "axis": {"zindex": 1, "orient": "bottom", "offset": -1098, "title": null, "labelAngle": 0, "labelFontSize": 18, "tickSize": 7, "labelPadding": 9}}},
  "layer": [
   {"data": {"name": "box"}, "mark": {"type": "rule", "strokeDash": [3,3], "color": "#231f20", "strokeWidth": 1},
    "encoding": {"y": {"field": "lo", "type": "quantitative", "title": ["Cumul mensuel", "JAS (mm)"], "scale": {"domain": [-25.6,635], "range": [504,91], "nice": false, "zero": false},
                       "axis": {"zindex": 1, "orient": "left", "offset": -293.3, "values": [0,100,200,300,400,500,600], "tickSize": 7, "labelPadding": 6, "labelFontSize": 18, "titleAngle": 0, "titleX": -41.3, "titleY": 58.3, "titleAlign": "left", "titleBaseline": "alphabetic", "titleFontSize": 18, "titleLineHeight": 22.7}},
                 "y2": {"field": "hi"}}},
   {"data": {"name": "box"}, "mark": {"type": "bar", "size": 69, "fill": "#F7DC72", "stroke": "#3b3b3b", "strokeWidth": 1.3},
    "encoding": {"y": {"field": "q1", "type": "quantitative", "title": ["Cumul mensuel", "JAS (mm)"], "scale": {"domain": [-25.6,635], "range": [504,91], "nice": false, "zero": false}}, "y2": {"field": "q3"}}},
   {"data": {"name": "box"}, "mark": {"type": "tick", "size": 69, "thickness": 1.5, "color": "#231f20", "opacity": 1},
    "encoding": {"y": {"field": "med", "type": "quantitative", "title": ["Cumul mensuel", "JAS (mm)"], "scale": {"domain": [-25.6,635], "range": [504,91], "nice": false, "zero": false}}}},
   {"data": {"name": "box"}, "mark": {"type": "tick", "size": 32, "thickness": 1.2, "color": "#231f20", "opacity": 1},
    "encoding": {"y": {"field": "lo", "type": "quantitative", "title": ["Cumul mensuel", "JAS (mm)"], "scale": {"domain": [-25.6,635], "range": [504,91], "nice": false, "zero": false}}}},
   {"data": {"name": "box"}, "mark": {"type": "tick", "size": 32, "thickness": 1.2, "color": "#231f20", "opacity": 1},
    "encoding": {"y": {"field": "hi", "type": "quantitative", "title": ["Cumul mensuel", "JAS (mm)"], "scale": {"domain": [-25.6,635], "range": [504,91], "nice": false, "zero": false}}}},
   {"data": {"name": "out"}, "mark": {"type": "point", "shape": "circle", "size": 22, "filled": false, "color": "#231f20", "strokeWidth": 1, "opacity": 1},
    "encoding": {"y": {"field": "v", "type": "quantitative", "title": ["Cumul mensuel", "JAS (mm)"], "scale": {"domain": [-25.6,635], "range": [504,91], "nice": false, "zero": false}}}}
  ]},
 {"layer": [
   {"data": {"values": [{}]}, "mark": {"type": "rect", "fill": "#ffffff", "stroke": "#231f20", "strokeWidth": 1.2},
    "encoding": {"x": {"datum": -89.1, "type": "quantitative", "scale": {"domain": [-89.1,696.3], "range": [93.3,984], "nice": false, "zero": false}}, "x2": {"datum": 696.3},
                 "y": {"datum": -0.000172, "type": "quantitative", "scale": {"domain": [-0.000172,0.005028], "range": [1472.7,663.7], "nice": false, "zero": false}}, "y2": {"datum": 0.005028}}},
   {"data": {"values": [{}]}, "mark": {"type": "rect", "fill": "#ffffff", "stroke": "#4a4a4a", "strokeWidth": 1.2},
    "encoding": {"x": {"datum": 286.6, "type": "quantitative", "scale": {"domain": [-89.1,696.3], "range": [93.3,984], "nice": false, "zero": false}}, "x2": {"datum": 438.6},
                 "y": {"datum": 0.003716, "type": "quantitative", "scale": {"domain": [-0.000172,0.005028], "range": [1472.7,663.7], "nice": false, "zero": false}}, "y2": {"datum": 0.004889}}},
   {"data": {"name": "dens"}, "mark": {"type": "line", "interpolate": "monotone", "strokeWidth": 2, "color": "#231f20"},
    "encoding": {"x": {"field": "x", "type": "quantitative", "title": "Cumul mensuel JAS (mm)", "scale": {"domain": [-89.1,696.3], "range": [93.3,984], "nice": false, "zero": false},
                       "axis": {"zindex": 1, "orient": "bottom", "offset": -129.3, "values": [0,100,200,300,400,500,600], "tickSize": 12, "labelPadding": 29, "labelFontSize": 18, "titleX": 533, "titleY": 109, "titleAlign": "center", "titleBaseline": "middle", "titleFontSize": 18}},
                 "y": {"field": "y", "type": "quantitative", "title": ["Densité de probabilité", "observée"], "scale": {"domain": [-0.000172,0.005028], "range": [1472.7,663.7], "nice": false, "zero": false},
                       "axis": {"zindex": 1, "orient": "left", "offset": -93.3, "values": [0,0.001,0.002,0.003,0.004,0.005], "labelExpr": "replace(format(datum.value, '.3f'), '.', ',')", "tickSize": 13, "labelPadding": 6, "labelFontSize": 18, "titleAngle": 0, "titleX": -63.3, "titleY": 615.7, "titleAlign": "left", "titleBaseline": "alphabetic", "titleFontSize": 18, "titleLineHeight": 23.3}},
                 "strokeDash": {"field": "s", "type": "nominal", "scale": {"domain": ["CRA","CMAP","GPI","GPCC","GPCP"], "range": [[1,0],[7,4],[2,3],[2.5,3.5,9,3.5],[12,7]]}, "legend": null}}},
   {"data": {"values": [{}]}, "mark": {"type": "point", "shape": "circle", "size": 452, "filled": false, "color": "#231f20", "strokeWidth": 1, "opacity": 1},
    "encoding": {"x": {"datum": 268, "type": "quantitative", "scale": {"domain": [-89.1,696.3], "range": [93.3,984], "nice": false, "zero": false}},
                 "y": {"datum": 0.005368, "type": "quantitative", "scale": {"domain": [-0.000172,0.005028], "range": [1472.7,663.7], "nice": false, "zero": false}}}},
   {"data": {"values": [{}]}, "mark": {"type": "text", "fontSize": 18, "align": "center", "baseline": "middle", "color": "#231f20"},
    "encoding": {"x": {"datum": 268, "type": "quantitative", "scale": {"domain": [-89.1,696.3], "range": [93.3,984], "nice": false, "zero": false}},
                 "y": {"datum": 0.005368, "type": "quantitative", "scale": {"domain": [-0.000172,0.005028], "range": [1472.7,663.7], "nice": false, "zero": false}},
                 "text": {"value": "b"}}}
  ]},
 {"data": {"name": "series"},
  "encoding": {"y": {"field": "s", "type": "nominal", "sort": null, "scale": {"type": "point", "domain": ["CRA","CMAP","GPI","GPCC","GPCP"], "range": [712.7,842.3], "padding": 0}, "axis": null}},
  "layer": [
   {"mark": {"type": "rule", "strokeWidth": 2, "color": "#231f20"},
    "encoding": {"x": {"datum": 307.8, "type": "quantitative", "scale": {"domain": [-89.1,696.3], "range": [93.3,984], "nice": false, "zero": false}, "axis": null}, "x2": {"datum": 347.4},
                 "strokeDash": {"field": "s", "type": "nominal", "scale": {"domain": ["CRA","CMAP","GPI","GPCC","GPCP"], "range": [[1,0],[7,4],[2,3],[2.5,3.5,9,3.5],[12,7]]}, "legend": null}}},
   {"mark": {"type": "text", "fontSize": 18, "align": "left", "baseline": "middle", "color": "#231f20"},
    "encoding": {"x": {"datum": 368.1, "type": "quantitative", "scale": {"domain": [-89.1,696.3], "range": [93.3,984], "nice": false, "zero": false}, "axis": null}, "text": {"field": "s"}}}
  ]},
 {"layer": [
   {"data": {"values": [{}]}, "mark": {"type": "rect", "fill": "#ffffff", "stroke": "#231f20", "strokeWidth": 1},
    "encoding": {"x": {"datum": -66, "type": "quantitative", "scale": {"domain": [-66,694], "range": [743.3,944], "nice": false, "zero": false}}, "x2": {"datum": 694},
                 "y": {"datum": -0.0002, "type": "quantitative", "scale": {"domain": [-0.0002,0.006037], "range": [877.1,707.3], "nice": false, "zero": false}}, "y2": {"datum": 0.006037}}},
   {"data": {"name": "in1"}, "mark": {"type": "line", "interpolate": "monotone", "strokeWidth": 1},
    "encoding": {"x": {"field": "x", "type": "quantitative", "title": null, "scale": {"domain": [-66,694], "range": [743.3,944], "nice": false, "zero": false},
                       "axis": {"zindex": 1, "orient": "bottom", "offset": -724.9, "title": null, "values": [0,50,100,150,200,250,300,350,400,450,500,550,600], "labelExpr": "datum.value % 150 === 0 ? datum.label : ''", "tickSize": 5, "labelPadding": 7, "labelFontSize": 10}},
                 "y": {"field": "y", "type": "quantitative", "title": null, "scale": {"domain": [-0.0002,0.006037], "range": [877.1,707.3], "nice": false, "zero": false},
                       "axis": {"zindex": 1, "orient": "left", "offset": -743.3, "title": null, "values": [0,0.001,0.002,0.003,0.004,0.005,0.006], "labelExpr": "round(datum.value*1000) % 2 === 0 ? replace(format(datum.value, '.3f'), '.', ',') : ''", "tickSize": 4, "labelPadding": 6, "labelFontSize": 10, "labelAngle": 270, "labelAlign": "center", "labelBaseline": "alphabetic"}},
                 "stroke": {"field": "s", "type": "nominal", "scale": {"domain": ["CRA","CMAP","GPI","GPCC","GPCP"], "range": ["#1a1a1a","#1a1a1a","#8c8c8c","#1a1a1a","#1a1a1a"]}, "legend": null},
                 "strokeDash": {"field": "s", "type": "nominal", "scale": {"domain": ["CRA","CMAP","GPI","GPCC","GPCP"], "range": [[1,0],[3,2],[1,0],[1.5,1.5],[4,2]]}, "legend": null}}},
   {"data": {"values": [{}]}, "mark": {"type": "rect", "fill": "#ffffff", "stroke": "#231f20", "strokeWidth": 1.2},
    "encoding": {"x": {"datum": 350.8, "type": "quantitative", "scale": {"domain": [-66,694], "range": [743.3,944], "nice": false, "zero": false}}, "x2": {"datum": 672.7},
                 "y": {"datum": 0.004994, "type": "quantitative", "scale": {"domain": [-0.0002,0.006037], "range": [877.1,707.3], "nice": false, "zero": false}}, "y2": {"datum": 0.005828}}},
   {"data": {"values": [{}]}, "mark": {"type": "text", "fontSize": 11, "align": "center", "baseline": "middle", "color": "#231f20"},
    "encoding": {"x": {"datum": 511.7, "type": "quantitative", "scale": {"domain": [-66,694], "range": [743.3,944], "nice": false, "zero": false}},
                 "y": {"datum": 0.005411, "type": "quantitative", "scale": {"domain": [-0.0002,0.006037], "range": [877.1,707.3], "nice": false, "zero": false}},
                 "text": {"value": "Latitude 11.25°"}}}
  ]},
 {"layer": [
   {"data": {"values": [{}]}, "mark": {"type": "rect", "fill": "#ffffff", "stroke": "#231f20", "strokeWidth": 1},
    "encoding": {"x": {"datum": -66.5, "type": "quantitative", "scale": {"domain": [-66.5,503.7], "range": [743.3,944], "nice": false, "zero": false}}, "x2": {"datum": 503.7},
                 "y": {"datum": -0.00027, "type": "quantitative", "scale": {"domain": [-0.00027,0.00703], "range": [1120.4,947.3], "nice": false, "zero": false}}, "y2": {"datum": 0.00703}}},
   {"data": {"name": "in2"}, "mark": {"type": "line", "interpolate": "monotone", "strokeWidth": 1},
    "encoding": {"x": {"field": "x", "type": "quantitative", "title": null, "scale": {"domain": [-66.5,503.7], "range": [743.3,944], "nice": false, "zero": false},
                       "axis": {"zindex": 1, "orient": "bottom", "offset": -481.6, "title": null, "values": [-50,0,50,100,150,200,250,300,350,400,450,500], "labelExpr": "datum.value % 100 === 0 ? datum.label : ''", "tickSize": 5, "labelPadding": 7, "labelFontSize": 10}},
                 "y": {"field": "y", "type": "quantitative", "title": null, "scale": {"domain": [-0.00027,0.00703], "range": [1120.4,947.3], "nice": false, "zero": false},
                       "axis": {"zindex": 1, "orient": "left", "offset": -743.3, "title": null, "values": [0,0.001,0.002,0.003,0.004,0.005,0.006,0.007], "labelExpr": "round(datum.value*1000) % 2 === 0 ? replace(format(datum.value, '.3f'), '.', ',') : ''", "tickSize": 4, "labelPadding": 6, "labelFontSize": 10, "labelAngle": 270, "labelAlign": "center", "labelBaseline": "alphabetic"}},
                 "stroke": {"field": "s", "type": "nominal", "scale": {"domain": ["CRA","CMAP","GPI","GPCC","GPCP"], "range": ["#1a1a1a","#1a1a1a","#8c8c8c","#1a1a1a","#1a1a1a"]}, "legend": null},
                 "strokeDash": {"field": "s", "type": "nominal", "scale": {"domain": ["CRA","CMAP","GPI","GPCC","GPCP"], "range": [[1,0],[3,2],[1,0],[1.5,1.5],[4,2]]}, "legend": null}}},
   {"data": {"values": [{}]}, "mark": {"type": "rect", "fill": "#ffffff", "stroke": "#231f20", "strokeWidth": 1.2},
    "encoding": {"x": {"datum": 246, "type": "quantitative", "scale": {"domain": [-66.5,503.7], "range": [743.3,944], "nice": false, "zero": false}}, "x2": {"datum": 487.5},
                 "y": {"datum": 0.005768, "type": "quantitative", "scale": {"domain": [-0.00027,0.00703], "range": [1120.4,947.3], "nice": false, "zero": false}}, "y2": {"datum": 0.006751}}},
   {"data": {"values": [{}]}, "mark": {"type": "text", "fontSize": 11, "align": "center", "baseline": "middle", "color": "#231f20"},
    "encoding": {"x": {"datum": 366.8, "type": "quantitative", "scale": {"domain": [-66.5,503.7], "range": [743.3,944], "nice": false, "zero": false}},
                 "y": {"datum": 0.00626, "type": "quantitative", "scale": {"domain": [-0.00027,0.00703], "range": [1120.4,947.3], "nice": false, "zero": false}},
                 "text": {"value": "Latitude 13.75°"}}}
  ]},
 {"layer": [
   {"data": {"values": [{}]}, "mark": {"type": "rect", "fill": "#ffffff", "stroke": "#231f20", "strokeWidth": 1},
    "encoding": {"x": {"datum": -52.5, "type": "quantitative", "scale": {"domain": [-52.5,341.9], "range": [743.3,944], "nice": false, "zero": false}}, "x2": {"datum": 341.9},
                 "y": {"datum": -0.0004, "type": "quantitative", "scale": {"domain": [-0.0004,0.01418], "range": [1359.7,1187.7], "nice": false, "zero": false}}, "y2": {"datum": 0.01418}}},
   {"data": {"name": "in3"}, "mark": {"type": "line", "interpolate": "monotone", "strokeWidth": 1},
    "encoding": {"x": {"field": "x", "type": "quantitative", "title": null, "scale": {"domain": [-52.5,341.9], "range": [743.3,944], "nice": false, "zero": false},
                       "axis": {"zindex": 1, "orient": "bottom", "offset": -242.3, "title": null, "values": [-50,0,50,100,150,200,250,300], "labelExpr": "datum.value % 100 === 0 ? datum.label : ''", "tickSize": 5, "labelPadding": 7, "labelFontSize": 10}},
                 "y": {"field": "y", "type": "quantitative", "title": null, "scale": {"domain": [-0.0004,0.01418], "range": [1359.7,1187.7], "nice": false, "zero": false},
                       "axis": {"zindex": 1, "orient": "left", "offset": -743.3, "title": null, "values": [0,0.002,0.004,0.006,0.008,0.01,0.012,0.014], "labelExpr": "round(datum.value*1000) % 4 === 0 ? replace(format(datum.value, '.3f'), '.', ',') : ''", "tickSize": 4, "labelPadding": 6, "labelFontSize": 10, "labelAngle": 270, "labelAlign": "center", "labelBaseline": "alphabetic"}},
                 "stroke": {"field": "s", "type": "nominal", "scale": {"domain": ["CRA","CMAP","GPI","GPCC","GPCP"], "range": ["#1a1a1a","#1a1a1a","#8c8c8c","#1a1a1a","#1a1a1a"]}, "legend": null},
                 "strokeDash": {"field": "s", "type": "nominal", "scale": {"domain": ["CRA","CMAP","GPI","GPCC","GPCP"], "range": [[1,0],[3,2],[1,0],[1.5,1.5],[4,2]]}, "legend": null}}},
   {"data": {"values": [{}]}, "mark": {"type": "rect", "fill": "#ffffff", "stroke": "#231f20", "strokeWidth": 1.2},
    "encoding": {"x": {"datum": 163.7, "type": "quantitative", "scale": {"domain": [-52.5,341.9], "range": [743.3,944], "nice": false, "zero": false}}, "x2": {"datum": 330.6},
                 "y": {"datum": 0.011525, "type": "quantitative", "scale": {"domain": [-0.0004,0.01418], "range": [1359.7,1187.7], "nice": false, "zero": false}}, "y2": {"datum": 0.0135}}},
   {"data": {"values": [{}]}, "mark": {"type": "text", "fontSize": 11, "align": "center", "baseline": "middle", "color": "#231f20"},
    "encoding": {"x": {"datum": 247.1, "type": "quantitative", "scale": {"domain": [-52.5,341.9], "range": [743.3,944], "nice": false, "zero": false}},
                 "y": {"datum": 0.01251, "type": "quantitative", "scale": {"domain": [-0.0004,0.01418], "range": [1359.7,1187.7], "nice": false, "zero": false}},
                 "text": {"value": "Latitude 16.25°"}}}
  ]}
]
}
